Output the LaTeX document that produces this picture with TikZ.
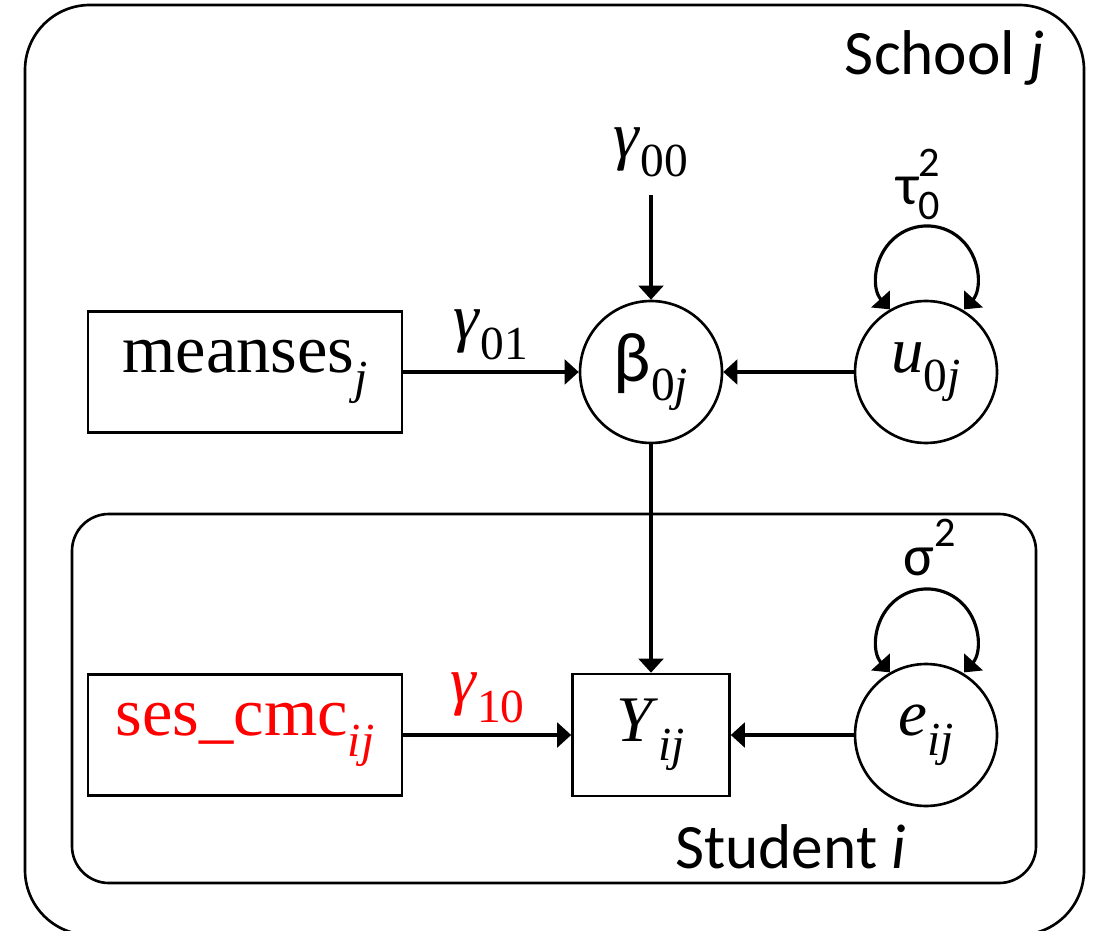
\documentclass[tikz,border=0pt]{standalone}
\usepackage{fontspec}
\setmainfont{Liberation Serif}
\newfontfamily\calfont{Carlito}
\usetikzlibrary{arrows.meta}
\definecolor{accentred}{RGB}{255,0,0}

% lowered subscript and raised superscript in a smaller size
\newcommand\lsub[1]{\raisebox{-0.3em}{\fontsize{27}{27}\selectfont #1}}
\newcommand\usup[1]{\raisebox{0.5em}{\fontsize{24}{24}\selectfont #1}}

\tikzset{
  outerframe/.style={draw, line width=1.5pt, rounded corners=37pt},
  innerframe/.style={draw, line width=1.5pt, rounded corners=21pt},
  obsbox/.style={draw, line width=1.5pt, rectangle, inner sep=0pt,
    minimum width=6.28cm, minimum height=2.42cm, font=\fontsize{39}{41}\selectfont},
  outbox/.style={draw, line width=1.5pt, rectangle, inner sep=0pt,
    minimum width=3.14cm, minimum height=2.44cm, font=\fontsize{37}{39}\selectfont},
  latent/.style={draw, circle, line width=1.5pt, inner sep=0pt,
    minimum size=2.84cm, font=\fontsize{37}{39}\selectfont},
  regpath/.style={line width=2.1pt, -{Triangle[length=8pt,width=14pt]}},
  varpath/.style={line width=1.8pt,
    {Triangle[length=8pt,width=14pt]}-{Triangle[length=8pt,width=14pt]}},
  coef/.style={font=\fontsize{37}{39}\selectfont, inner sep=2pt},
  varlabel/.style={font=\calfont\fontsize{33}{35}\selectfont, inner sep=0pt},
  levellabel/.style={font=\calfont\fontsize{36}{38}\selectfont, inner sep=0pt},
}

\begin{document}
\begin{tikzpicture}[x=0.02cm, y=0.02cm]
  \useasboundingbox (0,0) rectangle (1097,930);
  \clip (0,0) rectangle (1097,930);

  % level frames
  \draw[outerframe] (25,-5) rectangle (1084,925);
  \draw[innerframe] (72,47) rectangle (1036,416);
  \node[levellabel, anchor=base east] (school) at (1045,855) {School \textit{j}};
  \node[levellabel, anchor=base west] (student) at (675,62) {Student \textit{i}};

  % school level
  \node[obsbox] (mean) at (245,558) {meanses\lsub{\itshape j}};
  \node[latent] (beta) at (651,558) {{\calfont\fontsize{40}{42}\selectfont β}\lsub{0\itshape j}};
  \node[latent] (u) at (926,558) {\textit{u}\lsub{0\itshape j}};
  \coordinate (g00top) at (651,735);
  \node[coef, above=8pt] (g00) at (g00top) {\textit{γ}\lsub{00}};

  % student level
  \node[obsbox, text=accentred] (ses) at (245,195) {ses\_cmc\lsub{\itshape ij}};
  \node[outbox] (Y) at (651,195) {\textit{Y}\lsub{\itshape ij}};
  \node[latent] (e) at (926,195) {\textit{e}\lsub{\itshape ij}};

  % regression paths
  \draw[regpath] (g00top) -- (beta);
  \draw[regpath] (mean) -- node[coef, above=4pt] (g01) {\textit{γ}\lsub{01}} (beta);
  \draw[regpath] (u) -- (beta);
  \draw[regpath] (beta) -- (Y);
  \draw[regpath] (ses) -- node[coef, above=4pt, text=accentred] (g10) {\textit{γ}\lsub{10}} (Y);
  \draw[regpath] (e) -- (Y);

  % variances
  \draw[varpath] (u.120) arc[start angle=222, end angle=-42, radius=50];
  \node[varlabel, anchor=base] (tau) at (918,725)
    {τ\makebox[0pt][l]{\usup{2}}\raisebox{-0.25em}{\fontsize{24}{24}\selectfont 0}};
  \draw[varpath] (e.120) arc[start angle=222, end angle=-42, radius=50];
  \node[varlabel, anchor=base] (sigma) at (930,355) {σ\usup{2}};
\end{tikzpicture}
\end{document}
